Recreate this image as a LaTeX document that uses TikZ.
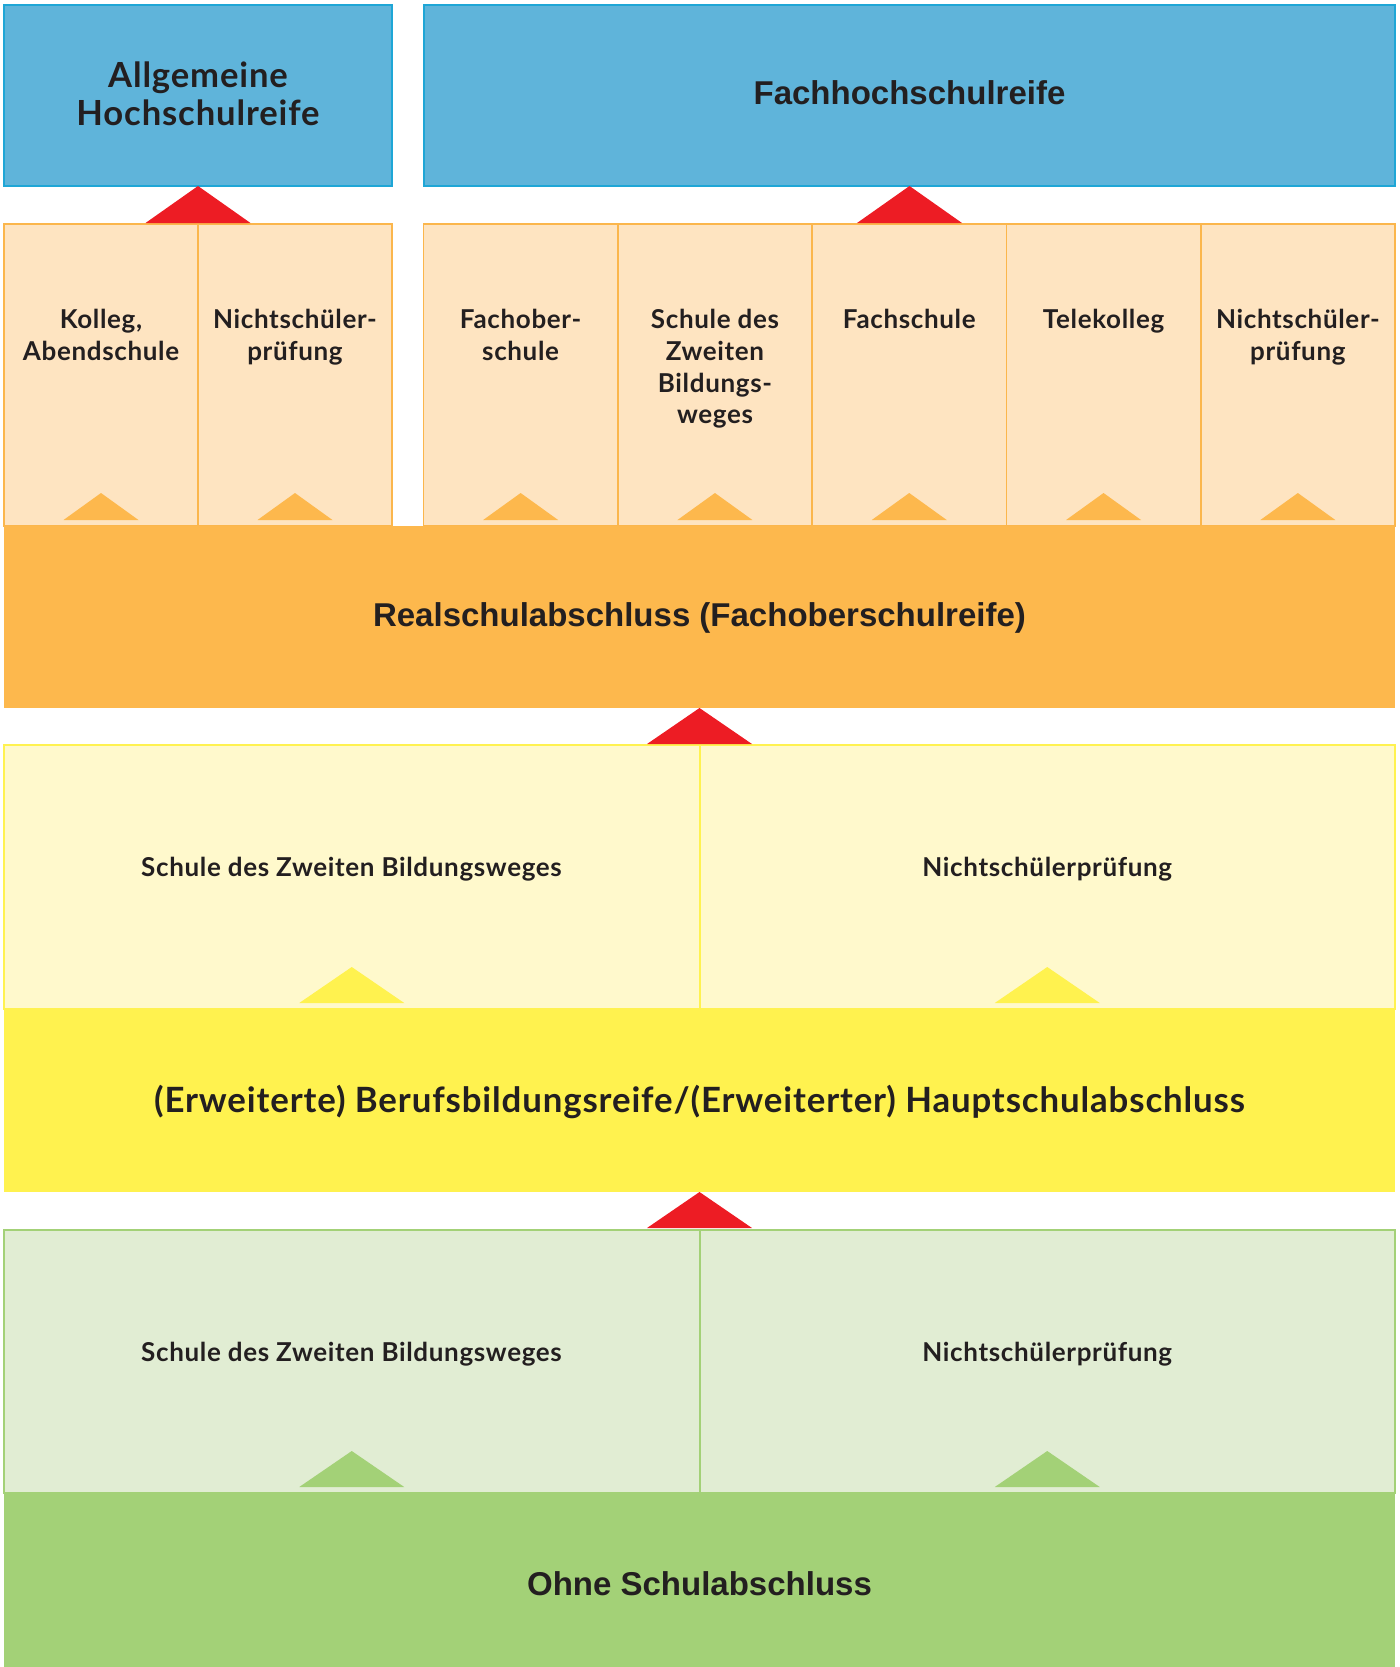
\documentclass[tikz,border=0pt]{standalone}
\usepackage{fontspec}
\newfontfamily\grot{Lato}[LetterSpace=2.5]
\newfontfamily\helv{Liberation Sans}
\usetikzlibrary{calc}

\definecolor{inkc}{HTML}{231F20}
\definecolor{bluefill}{HTML}{5FB4DA}
\definecolor{blueline}{HTML}{1EA6D6}
\definecolor{orlight}{HTML}{FEE4C1}
\definecolor{orline}{HTML}{FBB64C}
\definecolor{orband}{HTML}{FDB84D}
\definecolor{yelight}{HTML}{FFF9CC}
\definecolor{yeline}{HTML}{FFF250}
\definecolor{yeband}{HTML}{FFF24F}
\definecolor{grlight}{HTML}{E1EDD3}
\definecolor{grline}{HTML}{A3D177}
\definecolor{grband}{HTML}{A3D177}
\definecolor{redtri}{HTML}{ED1C24}

% boxes given by their corners (x1,y1) (x2,y2)
\newcommand\cellbox[6]{%
  \pgfmathsetmacro\cx{(#3+#5)/2}\pgfmathsetmacro\cy{(#4+#6)/2}%
  \pgfmathsetmacro\cw{(#5-#3)*0.5}\pgfmathsetmacro\ch{(#6-#4)*0.5}%
  \node[#1, minimum width=\cw pt, minimum height=\ch pt] (#2) at (\cx,\cy) {};}

\tikzset{
  boxbase/.style={rectangle, inner sep=0pt, outer sep=0pt},
  bluebox/.style={boxbase, draw=blueline, fill=bluefill, line width=0.8pt},
  obox/.style={boxbase, draw=orline, fill=orlight, line width=0.8pt},
  yebox/.style={boxbase, draw=yeline, fill=yelight, line width=1pt},
  grbox/.style={boxbase, draw=grline, fill=grlight, line width=1pt},
  oband/.style={boxbase, fill=orband},
  yband/.style={boxbase, fill=yeband},
  gband/.style={boxbase, fill=grband},
  uparrow/.style={fill=redtri},
  omark/.style={fill=orband},
  ymark/.style={fill=yeband},
  gmark/.style={fill=grband},
  coltext/.style={inner sep=0pt, anchor=north, align=center, text=inkc,
    font=\grot\bfseries\fontsize{13pt}{15.85pt}\selectfont},
  rowtext/.style={inner sep=0pt, text=inkc,
    font=\grot\bfseries\fontsize{13pt}{15pt}\selectfont},
  bandtext/.style={inner sep=0pt, text=inkc,
    font=\helv\bfseries\fontsize{16.5pt}{19pt}\selectfont},
  bandgrot/.style={inner sep=0pt, text=inkc,
    font=\grot\bfseries\fontsize{17.4pt}{19pt}\selectfont},
}

\begin{document}
\begin{tikzpicture}[x=0.5pt, y=-0.5pt]
\useasboundingbox (0,0) rectangle (1399,1667);

% top: qualifications
\cellbox{bluebox}{ahr}{4}{5}{392}{186}
\cellbox{bluebox}{fhr}{424}{5}{1395}{186}
\node[bandgrot, align=center, font=\grot\bfseries\fontsize{17.3pt}{19pt}\selectfont] (ahrt) at (198,94) {Allgemeine\\Hochschulreife};
\node[bandtext] (fhrt) at (909.5,93) {Fachhochschulreife};

% routes to higher qualifications
\cellbox{obox}{c1}{4}{224}{198}{526}
\cellbox{obox}{c2}{198}{224}{392}{526}
\cellbox{obox}{c3}{423.5}{224}{617.8}{526}
\cellbox{obox}{c4}{617.8}{224}{812.1}{526}
\cellbox{obox}{c5}{812.1}{224}{1006.4}{526}
\cellbox{obox}{c6}{1006.4}{224}{1200.7}{526}
\cellbox{obox}{c7}{1200.7}{224}{1395}{526}

\node[coltext] (t1) at (101,309) {Kolleg,\\Abendschule};
\node[coltext] (t2) at (295,309) {Nichtschüler-\\prüfung};
\node[coltext] (t3) at (520.6,309) {Fachober-\\schule};
\node[coltext] (t4) at (715,309) {Schule des\\Zweiten\\Bildungs-\\weges};
\node[coltext] (t5) at (909.3,309) {Fachschule};
\node[coltext] (t6) at (1103.6,309) {Telekolleg};
\node[coltext] (t7) at (1297.9,309) {Nichtschüler-\\prüfung};

\foreach \c in {c1,c2,c3,c4,c5,c6,c7}{
  \fill[omark] ($(\c.south)+(-37.5,-6)$) -- ($(\c.south)+(0,-33)$) -- ($(\c.south)+(37.5,-6)$) -- cycle;
}

% Realschulabschluss
\cellbox{oband}{rs}{4}{526}{1395}{708}
\node[bandtext] (rst) at (699.5,618) {Realschulabschluss (Fachoberschulreife)};

% yellow routes
\cellbox{yebox}{y1}{4}{745}{699.5}{1009}
\cellbox{yebox}{y2}{699.5}{745}{1395}{1009}
\node[rowtext] (y1t) at (351.5,869) {Schule des Zweiten Bildungsweges};
\node[rowtext] (y2t) at (1047.3,869) {Nichtschülerprüfung};
\foreach \c in {y1,y2}{
  \fill[ymark] ($(\c.south)+(-52.5,-6)$) -- ($(\c.south)+(0,-42)$) -- ($(\c.south)+(52.5,-6)$) -- cycle;
}

% Hauptschulabschluss
\cellbox{yband}{hs}{4}{1009}{1395}{1192}
\node[bandgrot] (hst) at (699.5,1102) {(Erweiterte) Berufsbildungsreife/(Erweiterter) Hauptschulabschluss};

% green routes
\cellbox{grbox}{g1}{4}{1230}{699.5}{1493}
\cellbox{grbox}{g2}{699.5}{1230}{1395}{1493}
\node[rowtext] (g1t) at (351.5,1354) {Schule des Zweiten Bildungsweges};
\node[rowtext] (g2t) at (1047.3,1354) {Nichtschülerprüfung};
\foreach \c in {g1,g2}{
  \fill[gmark] ($(\c.south)+(-52.5,-6)$) -- ($(\c.south)+(0,-42)$) -- ($(\c.south)+(52.5,-6)$) -- cycle;
}

% no qualification
\cellbox{gband}{os}{4}{1493}{1395}{1667}
\node[bandtext] (ost) at (699.5,1584) {Ohne Schulabschluss};

% red arrows between levels
\fill[uparrow] (ahr.south) -- ++(52.5,37) -- ++(-105,0) -- cycle;
\fill[uparrow] (fhr.south) -- ++(52.5,37) -- ++(-105,0) -- cycle;
\fill[uparrow] (rs.south) -- ++(52.5,36) -- ++(-105,0) -- cycle;
\fill[uparrow] (hs.south) -- ++(52.5,36) -- ++(-105,0) -- cycle;
\end{tikzpicture}
\end{document}
